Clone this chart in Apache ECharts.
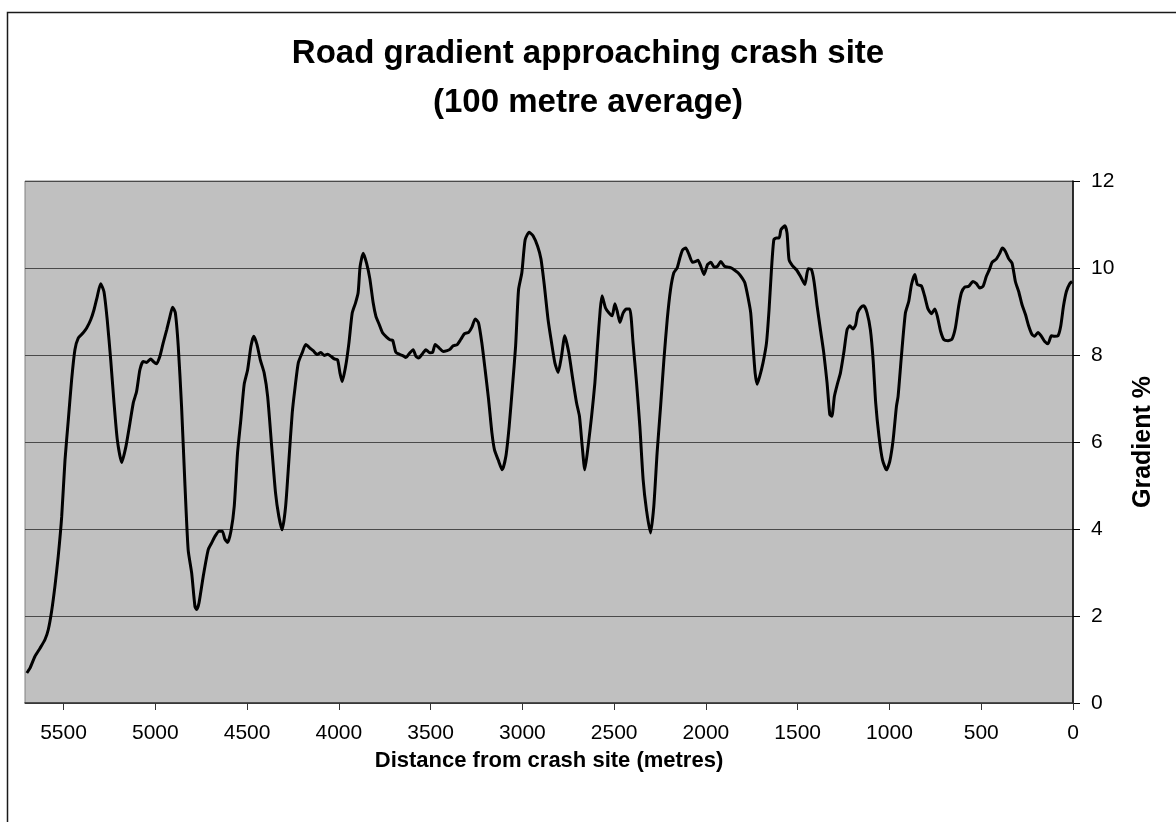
<!DOCTYPE html>
<html>
<head>
<meta charset="utf-8">
<script src="https://cdn.jsdelivr.net/npm/echarts@6/dist/echarts.min.js"></script>
<style>
  html, body { margin: 0; padding: 0; background: #fff; }
  #chart { width: 1176px; height: 822px; }
</style>
</head>
<body>
<div id="chart"></div>
<script>
// distance from crash site (metres) and 100 m average gradient (%)
const distance = [
    5700, 5683, 5656, 5628, 5601, 5583, 5565, 5547, 5529, 5510, 5492, 5474, 5456, 5438, 5420,
    5393, 5374, 5352, 5334, 5316, 5298, 5280, 5262, 5243, 5225, 5207, 5183, 5160, 5138, 5120,
    5102, 5084, 5066, 5047, 5025, 5011, 4993, 4975, 4957, 4938, 4920, 4906, 4891, 4875, 4857,
    4839, 4821, 4802, 4784, 4775, 4762, 4739, 4712, 4693, 4675, 4653, 4635, 4621, 4606, 4588,
    4570, 4552, 4534, 4516, 4497, 4479, 4464, 4446, 4428, 4407, 4388, 4366, 4345, 4327, 4309,
    4290, 4272, 4254, 4239, 4221, 4200, 4180, 4158, 4140, 4118, 4098, 4080, 4061, 4043, 4025,
    4007, 3994, 3982, 3963, 3945, 3927, 3909, 3895, 3884, 3867, 3849, 3831, 3813, 3798, 3780,
    3762, 3740, 3722, 3707, 3689, 3667, 3649, 3635, 3617, 3595, 3580, 3566, 3544, 3526, 3504,
    3489, 3475, 3453, 3432, 3410, 3395, 3377, 3355, 3337, 3315, 3293, 3275, 3257, 3239, 3221,
    3203, 3184, 3166, 3152, 3132, 3110, 3090, 3072, 3054, 3037, 3021, 3003, 2985, 2963, 2942,
    2917, 2899, 2881, 2860, 2841, 2823, 2805, 2787, 2769, 2747, 2725, 2705, 2689, 2674, 2660,
    2642, 2623, 2605, 2591, 2576, 2566, 2547, 2529, 2511, 2496, 2482, 2469, 2451, 2433, 2415,
    2397, 2378, 2360, 2342, 2324, 2302, 2284, 2266, 2247, 2229, 2211, 2193, 2175, 2157, 2142,
    2128, 2110, 2092, 2073, 2055, 2043, 2028, 2010, 1991, 1973, 1955, 1937, 1919, 1899, 1879,
    1861, 1843, 1825, 1806, 1788, 1770, 1756, 1743, 1732, 1721, 1707, 1689, 1670, 1656, 1643,
    1630, 1616, 1601, 1591, 1570, 1558, 1547, 1528, 1507, 1485, 1461, 1443, 1425, 1411, 1394,
    1376, 1358, 1340, 1325, 1314, 1300, 1282, 1267, 1249, 1231, 1216, 1198, 1184, 1173, 1155,
    1140, 1122, 1104, 1089, 1075, 1057, 1038, 1016, 998, 980, 962, 953, 935, 913, 895,
    880, 862, 848, 826, 808, 790, 771, 753, 739, 721, 703, 681, 659, 641, 623,
    608, 590, 568, 545, 526, 508, 490, 472, 454, 441, 417, 399, 385, 368, 350,
    332, 314, 296, 278, 259, 241, 223, 209, 191, 172, 154, 136, 118, 100, 82,
    67, 52, 36, 18, 5
];
const gradient = [
    0.69, 0.80, 1.07, 1.26, 1.46, 1.69, 2.11, 2.68, 3.37, 4.29, 5.59, 6.51, 7.43, 8.12, 8.39,
    8.51, 8.62, 8.81, 9.04, 9.35, 9.64, 9.46, 8.81, 7.89, 6.90, 6.05, 5.53, 5.90, 6.44, 6.90,
    7.16, 7.66, 7.85, 7.83, 7.91, 7.85, 7.80, 7.97, 8.28, 8.58, 8.89, 9.10, 8.97, 8.20, 6.82,
    5.06, 3.52, 2.99, 2.22, 2.15, 2.30, 2.91, 3.52, 3.68, 3.83, 3.95, 3.95, 3.77, 3.69, 3.95,
    4.52, 5.75, 6.51, 7.32, 7.66, 8.20, 8.43, 8.24, 7.89, 7.59, 7.05, 5.90, 4.83, 4.29, 3.98,
    4.52, 5.59, 6.67, 7.24, 7.82, 8.05, 8.24, 8.16, 8.10, 8.01, 8.06, 7.99, 8.02, 7.97, 7.91,
    7.89, 7.59, 7.39, 7.74, 8.28, 8.97, 9.20, 9.43, 10.04, 10.34, 10.11, 9.75, 9.20, 8.89, 8.70,
    8.51, 8.41, 8.35, 8.34, 8.06, 8.01, 7.98, 7.94, 8.03, 8.12, 7.97, 7.93, 8.03, 8.12, 8.05,
    8.06, 8.24, 8.16, 8.08, 8.10, 8.13, 8.21, 8.24, 8.35, 8.49, 8.52, 8.64, 8.83, 8.74, 8.28,
    7.66, 6.97, 6.21, 5.82, 5.59, 5.36, 5.67, 6.36, 7.28, 8.20, 9.50, 9.89, 10.65, 10.82, 10.74,
    10.50, 10.21, 9.62, 8.81, 8.28, 7.82, 7.60, 7.97, 8.44, 8.05, 7.43, 6.90, 6.59, 5.90, 5.36,
    5.90, 6.59, 7.36, 8.20, 9.04, 9.36, 9.08, 8.97, 8.90, 9.18, 8.98, 8.75, 8.97, 9.06, 9.06,
    8.28, 7.36, 6.36, 5.13, 4.44, 3.91, 4.52, 5.75, 6.82, 7.89, 8.81, 9.50, 9.89, 10.00, 10.23,
    10.41, 10.46, 10.31, 10.13, 10.15, 10.18, 10.04, 9.85, 10.08, 10.13, 10.02, 10.04, 10.15, 10.04, 10.02,
    10.00, 9.95, 9.89, 9.79, 9.66, 9.31, 8.97, 8.20, 7.59, 7.33, 7.51, 7.82, 8.28, 9.04, 9.96,
    10.65, 10.69, 10.69, 10.88, 10.97, 10.80, 10.19, 10.05, 9.96, 9.81, 9.62, 9.98, 9.96, 9.69, 9.12,
    8.58, 8.05, 7.36, 6.63, 6.59, 7.05, 7.36, 7.59, 8.05, 8.58, 8.67, 8.60, 8.70, 8.97, 9.10,
    9.13, 8.97, 8.58, 7.89, 6.90, 6.13, 5.59, 5.36, 5.56, 6.05, 6.82, 7.05, 7.97, 8.97, 9.23,
    9.62, 9.85, 9.62, 9.59, 9.35, 9.06, 8.95, 9.06, 8.89, 8.54, 8.35, 8.33, 8.37, 8.62, 9.12,
    9.43, 9.56, 9.58, 9.69, 9.64, 9.54, 9.58, 9.81, 9.98, 10.13, 10.21, 10.34, 10.46, 10.38, 10.21,
    10.11, 9.69, 9.46, 9.16, 8.93, 8.66, 8.47, 8.43, 8.52, 8.43, 8.31, 8.26, 8.44, 8.43, 8.44,
    8.66, 9.12, 9.46, 9.64, 9.69
];
const distanceTicks = [0, 500, 1000, 1500, 2000, 2500, 3000, 3500, 4000, 4500, 5000, 5500];

const font = "'Liberation Sans', Arial, sans-serif";
const chart = echarts.init(document.getElementById('chart'));

const points = distance.map(function (d, i) {
    return [d, gradient[i]];
});

chart.setOption({
    animation: false,
    backgroundColor: '#fff',
    textStyle: { fontFamily: font, color: '#000' },
    graphic: [{
        type: 'rect',
        shape: { x: 7.5, y: 12.5, width: 1300, height: 1000 },
        style: { fill: null, stroke: '#1a1a1a', lineWidth: 1.5 },
        silent: true
    }],
    title: {
        text: 'Road gradient approaching crash site\n(100 metre average)',
        left: 'center',
        top: 24,
        textStyle: {
            fontFamily: font,
            fontSize: 33,
            fontWeight: 'bold',
            lineHeight: 49,
            color: '#000'
        }
    },
    grid: {
        left: 25,
        right: 103,
        top: 181,
        bottom: 119,
        containLabel: false,
        outerBoundsMode: 'none',
        show: true,
        backgroundColor: '#c0c0c0',
        borderColor: '#808080',
        borderWidth: 1
    },
    xAxis: {
        type: 'value',
        inverse: true,
        min: 0,
        max: 5710,
        interval: 500,
        name: 'Distance from crash site (metres)',
        nameLocation: 'middle',
        nameGap: 47,
        nameTextStyle: { fontFamily: font, fontSize: 22, fontWeight: 'bold', color: '#000' },
        axisLine: { show: true, lineStyle: { color: '#333', width: 1.5 } },
        axisTick: { show: true, length: 7, inside: false, customValues: distanceTicks, lineStyle: { color: '#333' } },
        axisLabel: {
            customValues: distanceTicks,
            fontFamily: font,
            fontSize: 21,
            color: '#000',
            margin: 20,
            formatter: function (value) {
                return String(value);
            }
        },
        splitLine: { show: false }
    },
    yAxis: {
        type: 'value',
        position: 'right',
        min: 0,
        max: 12,
        interval: 2,
        name: 'Gradient %',
        nameLocation: 'middle',
        nameRotate: 90,
        nameGap: 58,
        nameTextStyle: { fontFamily: font, fontSize: 25, fontWeight: 'bold', color: '#000' },
        axisLine: { show: true, onZero: false, lineStyle: { color: '#000', width: 1.5 } },
        axisTick: { show: true, length: 7, lineStyle: { color: '#000' } },
        axisLabel: { fontFamily: font, fontSize: 21, color: '#000', margin: 18 },
        splitLine: { show: true, lineStyle: { color: '#4a4a4a', width: 1 } }
    },
    series: [{
        type: 'line',
        data: points,
        showSymbol: false,
        smooth: 0.2,
        lineStyle: { color: '#000', width: 3 },
        clip: true
    }]
});
</script>
</body>
</html>
